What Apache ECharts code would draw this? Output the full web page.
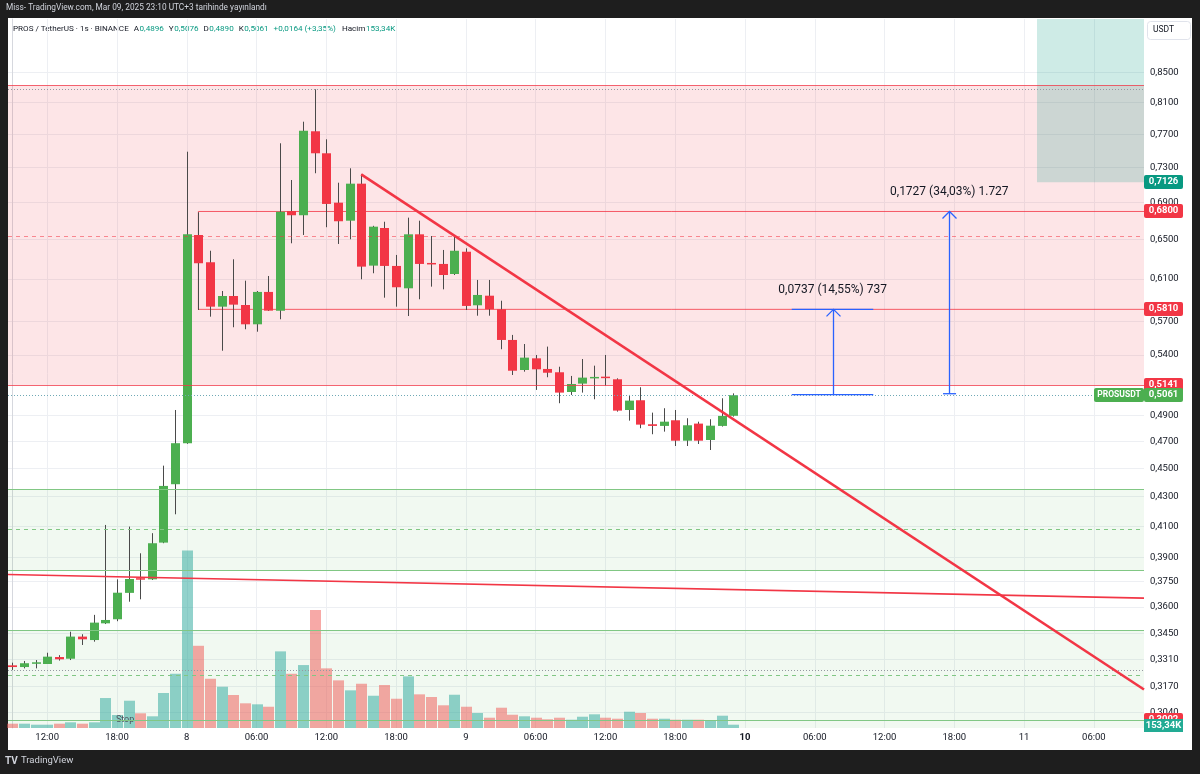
<!DOCTYPE html>
<html>
<head>
<meta charset="utf-8">
<script src="https://cdn.jsdelivr.net/npm/echarts@6/dist/echarts.min.js"></script>
<style>
html,body{margin:0;padding:0;background:#1e1e1e;}
#panel{position:absolute;left:8px;top:18px;width:1184px;height:732px;background:#ffffff;}
#c{position:absolute;left:0;top:0;width:1200px;height:774px;}
</style>
</head>
<body>
<div id="panel"></div>
<div id="c"></div>
<script>
// ---- data (hourly candles, first = 07 Mar 09:00) ----
const opens  = [0.3278,0.3269,0.3289,0.3285,0.3322,0.3313,0.3433,0.3414,0.3507,0.3530,0.3683,0.3771,0.3764,0.3993,0.4386,0.4685,0.6548,0.6267,0.5835,0.5936,0.5851,0.5672,0.5975,0.5798,0.6805,0.6759,0.7736,0.7467,0.6897,0.6700,0.7111,0.6233,0.6622,0.6230,0.6010,0.6555,0.6260,0.6250,0.6150,0.6374,0.5848,0.5939,0.5811,0.5531,0.5270,0.5370,0.5279,0.5251,0.5087,0.5156,0.5203,0.5214,0.5192,0.4942,0.5020,0.4830,0.4817,0.4861,0.4704,0.4835,0.4709,0.4817,0.4896];
const closes = [0.3269,0.3289,0.3294,0.3324,0.3310,0.3433,0.3418,0.3511,0.3526,0.3684,0.3766,0.3762,0.3989,0.4374,0.4685,0.6555,0.6257,0.5835,0.5936,0.5854,0.5672,0.5975,0.5798,0.6798,0.6759,0.7743,0.7467,0.6883,0.6694,0.7111,0.6223,0.6636,0.6230,0.6020,0.6555,0.6250,0.6250,0.6140,0.6384,0.5842,0.5946,0.5811,0.5531,0.5264,0.5376,0.5276,0.5247,0.5082,0.5153,0.5206,0.5212,0.5203,0.4937,0.5017,0.4827,0.4817,0.4850,0.4704,0.4822,0.4704,0.4819,0.4895,0.5061];
const lows   = [0.3254,0.3262,0.3262,0.3285,0.3303,0.3306,0.3387,0.3405,0.3503,0.3519,0.3631,0.3645,0.3760,0.3989,0.4179,0.4680,0.5804,0.5742,0.5436,0.5645,0.5627,0.5605,0.5795,0.5718,0.6461,0.6548,0.7231,0.6630,0.6454,0.6503,0.6098,0.6157,0.5920,0.5835,0.5748,0.5905,0.6026,0.6000,0.6140,0.5804,0.5751,0.5751,0.5449,0.5228,0.5256,0.5104,0.5209,0.4996,0.5063,0.5082,0.5028,0.5139,0.4929,0.4858,0.4799,0.4753,0.4773,0.4664,0.4664,0.4679,0.4634,0.4812,0.4890];
const highs  = [0.3292,0.3301,0.3306,0.3345,0.3332,0.3460,0.3446,0.3555,0.4108,0.3764,0.4097,0.3925,0.4054,0.4519,0.4942,0.7486,0.6791,0.6384,0.5984,0.6297,0.6084,0.5984,0.6130,0.7588,0.7153,0.7856,0.8276,0.7637,0.7122,0.7289,0.7219,0.6645,0.6689,0.6341,0.6733,0.6700,0.6537,0.6392,0.6548,0.6409,0.6091,0.6091,0.5891,0.5576,0.5495,0.5399,0.5472,0.5298,0.5220,0.5364,0.5307,0.5399,0.5200,0.5063,0.5126,0.4921,0.4956,0.4942,0.4877,0.4850,0.4869,0.5036,0.5076];
const volumesK = [200,200,153,153,200,265,200,265,1395,605,1270,684,544,1628,2525,8263,3827,2292,1920,1535,1149,1102,990,3567,2525,2930,5487,2776,2218,1753,2060,1502,2000,1362,2404,1567,1442,1056,1548,990,698,479,944,618,544,479,405,479,386,525,637,479,432,758,698,432,432,386,386,386,339,572,153.34];

const timeTickIdx    = [3,9,15,21,27,33,39,45,51,57,63,69,75,81,87,93];
const timeTickLabels = ['12:00','18:00','8','06:00','12:00','18:00','9','06:00','12:00','18:00','10','06:00','12:00','18:00','11','06:00'];
const priceTicks = [0.85,0.81,0.77,0.73,0.69,0.65,0.61,0.57,0.54,0.49,0.47,0.45,0.43,0.41,0.39,0.375,0.36,0.345,0.331,0.317,0.304];

// drawings
const trendMain   = [[30,0.7219],[97.31,0.3153]];
const trendLower  = [[-0.37,0.3793],[97.31,0.3652]];
const boxTop = 0.6800, boxBottom = 0.5810, boxStartIdx = 16;
const pinkZone = [0.8334, 0.5141];
const greenZone1 = [0.4350, 0.3820];
const greenZone2 = [0.3466, 0.29638];
const targetBox = {fromIdx: 88.11, low: 0.7126};
const measureLeft  = [67.02, 80.03];
const measureRight = [74.03, 81.15];
const measureMid   = [70.54, 80.57];
const measureBase  = [0.5065, 0.5073];
const measureTop   = [0.5810, 0.6800];
const measureTopCap = [true, false];
const measureText  = ['0,0737 (14,55%) 737', '0,1727 (34,03%) 1.727'];
const tagPrices = [0.7126, 0.6800, 0.5810, 0.5141, 0.3002, 0.5061];
const tagTexts  = ['0,7126','0,6800','0,5810','0,5141','0,3002','0,5061'];
const tagColors = ['#089981','#f23645','#f23645','#f23645','#f23645','#4caf50'];
const lastVolumeK = 153.34;
// header legend: [text, kind, gap after]
const headerItems = [
  ['PROS / TetherUS · 1s · BINANCE', 'd', 5], ['A', 'd', 0.5], ['0,4896', 'g', 5],
  ['Y', 'd', 0.5], ['0,5076', 'g', 5], ['D', 'd', 0.5], ['0,4890', 'g', 5],
  ['K', 'd', 0.5], ['0,5061', 'g', 5], ['+0,0164 (+3,35%)', 'g', 6],
  ['Hacim', 'd', 0.5], ['153,34K', 'g', 0]
];

// ---- layout ----
const X_MIN = -0.37, X_MAX = 97.31;
const Y_MIN = 0.29638, Y_MAX = 0.92664;
const GREEN = '#4caf50', RED = '#f23645';
const FONT = 'Roboto, "Noto Sans", sans-serif';
const HEADER_FONT = '8.1px ' + FONT;

const chart = echarts.init(document.getElementById('c'), null, {renderer: 'canvas'});

function fmtPrice(v){ return v.toFixed(4).replace('.', ','); }

function renderCandle(params, api){
  const i = api.value(0), o = api.value(1), c = api.value(2), l = api.value(3), h = api.value(4);
  const pO = api.coord([i, o]), pC = api.coord([i, c]), pL = api.coord([i, l]), pH = api.coord([i, h]);
  const xc = Math.round(pO[0]);
  const col = c >= o ? GREEN : RED;
  const top = Math.min(pO[1], pC[1]), bot = Math.max(pO[1], pC[1]);
  return {type: 'group', children: [
    {type: 'line', shape: {x1: xc + 0.5, y1: pH[1], x2: xc + 0.5, y2: pL[1]}, style: {stroke: '#4a4a4a', lineWidth: 1}},
    {type: 'rect', shape: {x: xc - 4, y: top, width: 9, height: Math.max(1.5, bot - top)}, style: {fill: col}}
  ]};
}

function renderVolume(params, api){
  const i = api.value(0), v = api.value(1);
  const p = api.coord([i, v]), p0 = api.coord([i, 0]);
  const k = params.dataIndex;
  const col = closes[k] >= opens[k] ? 'rgba(38,166,154,0.5)' : 'rgba(239,83,80,0.5)';
  const xc = Math.round(p[0]);
  return {type: 'rect', shape: {x: xc - 5, y: p[1], width: 11, height: p0[1] - p[1]}, style: {fill: col}};
}

function renderMeasure(params, api){
  const k = params.dataIndex;
  const pb = api.coord([measureMid[k], measureBase[k]]);
  const pt = api.coord([measureMid[k], measureTop[k]]);
  const l = api.coord([measureLeft[k], measureBase[k]])[0];
  const r = api.coord([measureRight[k], measureBase[k]])[0];
  const x = Math.round(pb[0]) + 0.5;
  const st = {stroke: '#2962ff', lineWidth: 1.3, fill: null};
  const ch = [
    {type: 'line', shape: {x1: l, y1: pb[1], x2: r, y2: pb[1]}, style: st},
    {type: 'line', shape: {x1: x, y1: pb[1], x2: x, y2: pt[1]}, style: st},
    {type: 'polyline', shape: {points: [[x - 7, pt[1] + 7], [x, pt[1]], [x + 7, pt[1] + 7]]}, style: st},
    {type: 'text', style: {text: measureText[k], x: pb[0], y: pt[1] - 19, align: 'center', verticalAlign: 'middle', fill: '#131722', font: '12px ' + FONT}}
  ];
  if (measureTopCap[k]) ch.push({type: 'line', shape: {x1: l, y1: pt[1], x2: r, y2: pt[1]}, style: st});
  return {type: 'group', children: ch};
}

function renderTag(params, api){
  const k = params.dataIndex;
  const p = api.coord([X_MAX, tagPrices[k]]);
  const y = Math.round(p[1]);
  const ch = [
    {type: 'rect', shape: {x: 1144, y: y - 7, width: 39, height: 14, r: 2}, style: {fill: tagColors[k]}},
    {type: 'text', style: {text: tagTexts[k], x: 1163.5, y: y, align: 'center', verticalAlign: 'middle', fill: '#fff', font: 'bold 9.5px ' + FONT}}
  ];
  if (tagTexts[k] === '0,5061') {
    ch.push({type: 'rect', shape: {x: 1094, y: y - 7, width: 50, height: 14, r: 2}, style: {fill: GREEN}});
    ch.push({type: 'text', style: {text: 'PROSUSDT', x: 1119, y: y, align: 'center', verticalAlign: 'middle', fill: '#fff', font: 'bold 8.5px ' + FONT}});
  }
  return {type: 'group', children: ch};
}

function renderVolTag(params, api){
  const p = api.coord([X_MAX, api.value(1)]);
  const y = Math.round(p[1]);
  return {type: 'group', children: [
    {type: 'rect', shape: {x: 1144, y: y - 6, width: 39, height: 13}, style: {fill: '#22ab94'}},
    {type: 'text', style: {text: '153,34K', x: 1163.5, y: y + 0.5, align: 'center', verticalAlign: 'middle', fill: '#fff', font: 'bold 9.5px ' + FONT}}
  ]};
}

function renderStopText(params, api){
  const p = api.coord([api.value(0), api.value(1)]);
  return {type: 'text', style: {text: 'Stop', x: p[0], y: p[1], align: 'center', verticalAlign: 'middle', fill: '#50535e', font: '9px ' + FONT}};
}

const redLine = 'rgba(242,54,69,0.75)';
const greenLine = '#81c784';
const hLines = [
  {yAxis: pinkZone[0], lineStyle: {color: redLine, width: 1, type: 'solid'}},
  {yAxis: 0.8274, lineStyle: {color: '#9598a1', width: 1, type: [1, 2]}},
  {yAxis: 0.6537, lineStyle: {color: 'rgba(242,54,69,0.55)', width: 1, type: [4, 4]}},
  {yAxis: pinkZone[1], lineStyle: {color: redLine, width: 1, type: 'solid'}},
  {yAxis: 0.5061, lineStyle: {color: '#6fa9b5', width: 1, type: [1, 2]}},
  {yAxis: greenZone1[0], lineStyle: {color: greenLine, width: 1, type: 'solid'}},
  {yAxis: 0.4079, lineStyle: {color: greenLine, width: 1, type: [4, 4]}},
  {yAxis: greenZone1[1], lineStyle: {color: greenLine, width: 1, type: 'solid'}},
  {yAxis: greenZone2[0], lineStyle: {color: greenLine, width: 1, type: 'solid'}},
  {yAxis: 0.3254, lineStyle: {color: '#9598a1', width: 1, type: [1, 2]}},
  {yAxis: 0.3228, lineStyle: {color: greenLine, width: 1, type: [4, 4]}},
  {yAxis: 0.3002, lineStyle: {color: greenLine, width: 1, type: 'solid'}}
];

const graphics = [
  {type: 'text', left: 6, top: 4, silent: true,
   style: {text: 'Miss- TradingView.com, Mar 09, 2025 23:10 UTC+3 tarihinde yayınlandı', fill: '#d1d4dc', font: '8.3px ' + FONT}},
  {type: 'rect', left: 1147, top: 21, silent: true, shape: {width: 43, height: 18, r: 3}, style: {fill: '#fff', stroke: '#e0e3eb', lineWidth: 1}},
  {type: 'text', left: 1153, top: 25, silent: true, style: {text: 'USDT', fill: '#131722', font: '8.5px ' + FONT}},
  {type: 'text', left: 5, top: 756, silent: true, style: {text: 'TV', fill: '#d1d4dc', font: 'bold 10px ' + FONT}},
  {type: 'text', left: 21, top: 756, silent: true, style: {text: 'TradingView', fill: '#d1d4dc', font: '9.5px ' + FONT}}
];
// lay the legend items out one after another, measured in the same font
const measureCtx = document.createElement('canvas').getContext('2d');
measureCtx.font = HEADER_FONT;
let headerX = 13;
headerItems.forEach(it => {
  graphics.push({
    type: 'text', x: headerX, y: 28.5, silent: true,
    style: {text: it[0], verticalAlign: 'middle', fill: it[1] === 'g' ? '#089981' : '#131722', font: HEADER_FONT}
  });
  headerX += measureCtx.measureText(it[0]).width + it[2];
});

const option = {
  backgroundColor: 'transparent',
  animation: false,
  grid: {left: 8, top: 19, width: 1136, height: 709, containLabel: false},
  xAxis: {
    type: 'value', min: X_MIN, max: X_MAX,
    axisLine: {show: false},
    axisTick: {show: false, customValues: timeTickIdx},
    axisLabel: {
      customValues: timeTickIdx, margin: 5, color: '#131722', fontSize: 9.5, fontFamily: FONT,
      formatter: v => {
        const t = timeTickLabels[timeTickIdx.indexOf(Math.round(v))] || '';
        return t === '10' ? '{b|10}' : t;
      },
      rich: {b: {fontWeight: 'bold', fontSize: 9.5, color: '#131722', fontFamily: FONT}}
    },
    splitLine: {show: true, lineStyle: {color: '#edeff3', width: 1}}
  },
  yAxis: [{
    type: 'log', logBase: 10, min: Y_MIN, max: Y_MAX, position: 'right',
    axisLine: {show: true, lineStyle: {color: '#d6d8de'}},
    axisTick: {show: false, customValues: priceTicks},
    axisLabel: {customValues: priceTicks, margin: 6, color: '#131722', fontSize: 9.5, fontFamily: FONT, formatter: v => fmtPrice(v)},
    splitLine: {show: true, lineStyle: {color: '#edeff3', width: 1}}
  }, {
    type: 'value', min: 0, max: 33000, show: false, position: 'left',
    splitLine: {show: false}
  }],
  series: [
    {
      name: 'zones', type: 'line', data: [], silent: true, z: 1,
      markArea: {silent: true, precision: 6, data: [
        [{xAxis: X_MIN, yAxis: pinkZone[0], itemStyle: {color: 'rgba(242,54,69,0.13)'}}, {xAxis: X_MAX, yAxis: pinkZone[1]}],
        [{xAxis: X_MIN, yAxis: greenZone1[0], itemStyle: {color: 'rgba(76,175,80,0.08)'}}, {xAxis: X_MAX, yAxis: greenZone1[1]}],
        [{xAxis: X_MIN, yAxis: greenZone2[0], itemStyle: {color: 'rgba(76,175,80,0.08)'}}, {xAxis: X_MAX, yAxis: greenZone2[1]}],
        [{xAxis: targetBox.fromIdx, yAxis: targetBox.low, itemStyle: {color: 'rgba(8,153,129,0.2)'}}, {xAxis: X_MAX, yAxis: Y_MAX}]
      ]},
      markLine: {silent: true, precision: 6, symbol: ['none', 'none'], label: {show: false}, data: hLines}
    },
    {
      name: 'Hacim', type: 'custom', xAxisIndex: 0, yAxisIndex: 1, z: 2, silent: true,
      renderItem: renderVolume, encode: {x: 0, y: 1},
      data: volumesK.map((v, k) => [k, v])
    },
    {
      name: 'range box', type: 'line', symbol: 'none', z: 3, silent: true,
      lineStyle: {color: 'rgba(242,54,69,0.8)', width: 1},
      data: [[X_MAX, boxTop], [boxStartIdx, boxTop], [boxStartIdx, boxBottom], [X_MAX, boxBottom]]
    },
    {
      name: 'Stop label', type: 'custom', z: 3, silent: true, renderItem: renderStopText,
      encode: {x: 0, y: 1}, data: [[9.7, 0.3002]]
    },
    {
      name: 'PROS/USDT', type: 'custom', z: 4, silent: true,
      renderItem: renderCandle, encode: {x: 0, y: [1, 2, 3, 4]},
      data: opens.map((o, k) => [k, o, closes[k], lows[k], highs[k]])
    },
    {
      name: 'trend', type: 'line', symbol: 'none', z: 5, silent: true, clip: true,
      lineStyle: {color: RED, width: 2.6}, data: trendMain
    },
    {
      name: 'trend2', type: 'line', symbol: 'none', z: 5, silent: true, clip: true,
      lineStyle: {color: RED, width: 1.6}, data: trendLower
    },
    {
      name: 'measure', type: 'custom', z: 6, silent: true, renderItem: renderMeasure,
      encode: {x: 0, y: 1}, data: measureMid.map((m, k) => [m, measureTop[k]])
    },
    {
      name: 'tags', type: 'custom', z: 10, silent: true, renderItem: renderTag, clip: false,
      encode: {x: 0, y: 1}, data: tagPrices.map(p => [X_MAX, p])
    },
    {
      name: 'voltag', type: 'custom', xAxisIndex: 0, yAxisIndex: 1, z: 11, silent: true, clip: false,
      renderItem: renderVolTag, encode: {x: 0, y: 1}, data: [[X_MAX, lastVolumeK]]
    }
  ],
  graphic: graphics
};
chart.setOption(option);
</script>
</body>
</html>
